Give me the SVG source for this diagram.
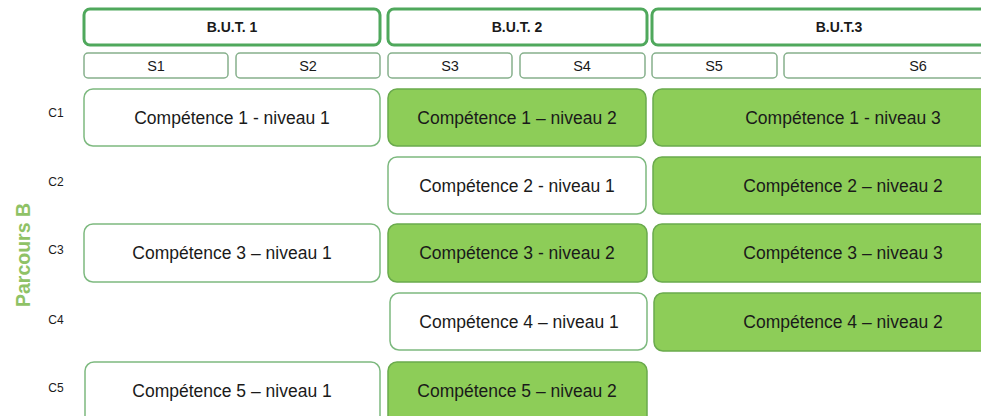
<svg xmlns="http://www.w3.org/2000/svg" width="981" height="416" viewBox="0 0 981 416">
<style>
text{font-family:"Liberation Sans",Arial,sans-serif;fill:#1a1a1a}
.hd{fill:#fff;stroke:#4fa85c;stroke-width:3}
.hdt{font-size:14px;font-weight:bold;text-anchor:middle}
.sm{fill:#fff;stroke:#86b08c;stroke-width:1.5}
.smt{font-size:14.5px;text-anchor:middle}
.w{fill:#fff;stroke:#7db97f;stroke-width:1.5}
.g{fill:#8dcd58;stroke:#6aaa4c;stroke-width:1.5}
.bt{font-size:17.5px;text-anchor:middle}
.cl{font-size:12px;text-anchor:middle}
</style>
<rect width="981" height="416" fill="#fff"/>
<g id="headers">
<g id="but1"><rect class="hd" x="84" y="9" width="296" height="36" rx="6"/><text class="hdt" x="232" y="32">B.U.T. 1</text></g>
<g id="but2"><rect class="hd" x="388" y="9" width="259" height="36" rx="6"/><text class="hdt" x="517" y="32">B.U.T. 2</text></g>
<g id="but3"><rect class="hd" x="652" y="9" width="345" height="36" rx="6"/><text class="hdt" x="839" y="32">B.U.T.3</text></g>
</g>
<g id="semesters">
<g id="s1"><rect class="sm" x="84" y="53" width="144" height="25" rx="4"/><text class="smt" x="156" y="71">S1</text></g>
<g id="s2"><rect class="sm" x="236" y="53" width="144" height="25" rx="4"/><text class="smt" x="308" y="71">S2</text></g>
<g id="s3"><rect class="sm" x="388" y="53" width="124" height="25" rx="4"/><text class="smt" x="450" y="71">S3</text></g>
<g id="s4"><rect class="sm" x="520" y="53" width="125" height="25" rx="4"/><text class="smt" x="582" y="71">S4</text></g>
<g id="s5"><rect class="sm" x="652" y="53" width="125" height="25" rx="4"/><text class="smt" x="714" y="71">S5</text></g>
<g id="s6"><rect class="sm" x="784" y="53" width="220" height="25" rx="4"/><text class="smt" x="918" y="71">S6</text></g>
</g>
<g id="rowlabels">
<text class="cl" x="56" y="117">C1</text>
<text class="cl" x="56" y="186">C2</text>
<text class="cl" x="56" y="254">C3</text>
<text class="cl" x="56" y="324">C4</text>
<text class="cl" x="56" y="392">C5</text>
<text x="30" y="255" transform="rotate(-90 30 255)" style="font-size:19.5px;font-weight:bold;fill:#8fc266;text-anchor:middle">Parcours B</text>
</g>
<g id="c1n1"><rect class="w" x="84" y="89" width="296" height="57" rx="9"/><text class="bt" x="232" y="124">Compétence 1 - niveau 1</text></g>
<g id="c1n2"><rect class="g" x="388" y="89" width="258" height="57" rx="9"/><text class="bt" x="517" y="124">Compétence 1 – niveau 2</text></g>
<g id="c1n3"><rect class="g" x="653" y="89" width="345" height="57" rx="9"/><text class="bt" x="843" y="124">Compétence 1 -  niveau 3</text></g>
<g id="c2n1"><rect class="w" x="388" y="157" width="258" height="57" rx="9"/><text class="bt" x="517" y="192">Compétence 2 - niveau 1</text></g>
<g id="c2n2"><rect class="g" x="653" y="157" width="345" height="57" rx="9"/><text class="bt" x="843" y="192">Compétence 2 – niveau 2</text></g>
<g id="c3n1"><rect class="w" x="84" y="224" width="296" height="58" rx="9"/><text class="bt" x="232" y="259">Compétence 3 – niveau 1</text></g>
<g id="c3n2"><rect class="g" x="388" y="224" width="259" height="58" rx="9"/><text class="bt" x="517" y="259">Compétence 3 -  niveau 2</text></g>
<g id="c3n3"><rect class="g" x="653" y="224" width="345" height="58" rx="9"/><text class="bt" x="843" y="259">Compétence 3 – niveau 3</text></g>
<g id="c4n1"><rect class="w" x="390" y="293" width="257" height="57" rx="9"/><text class="bt" x="519" y="328">Compétence 4 – niveau 1</text></g>
<g id="c4n2"><rect class="g" x="654" y="293" width="345" height="58" rx="9"/><text class="bt" x="843" y="328">Compétence 4 – niveau 2</text></g>
<g id="c5n1"><rect class="w" x="85" y="362" width="295" height="66" rx="9"/><text class="bt" x="232" y="397">Compétence 5 – niveau 1</text></g>
<g id="c5n2"><rect class="g" x="388" y="362" width="259" height="66" rx="9"/><text class="bt" x="517" y="397">Compétence 5 – niveau 2</text></g>
<g id="connectors"></g>
</svg>
